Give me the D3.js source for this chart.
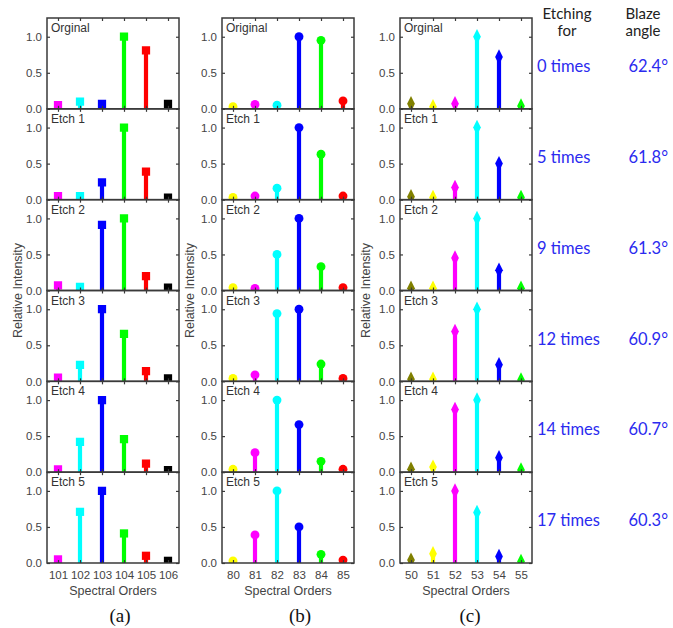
<!DOCTYPE html>
<html>
<head>
<meta charset="utf-8">
<script src="https://cdn.jsdelivr.net/npm/d3@7"></script>
<style>
  body { margin: 0; background: #fff; }
  svg { display: block; }
</style>
</head>
<body>
<svg id="chart" width="673" height="628"></svg>
<script>
// ---- data ----
const ordersA = [101, 102, 103, 104, 105, 106];
const ordersB = [80, 81, 82, 83, 84, 85];
const ordersC = [50, 51, 52, 53, 54, 55];

const colorsA = ["#ff00ff", "#00ffff", "#0000ff", "#00ff00", "#ff0000", "#000000"];
const colorsB = ["#ffff00", "#ff00ff", "#00ffff", "#0000ff", "#00ff00", "#ff0000"];
const colorsC = ["#808000", "#ffff00", "#ff00ff", "#00ffff", "#0000ff", "#00ff00"];

const rowLabelsA = ["Orginal", "Etch 1", "Etch 2", "Etch 3", "Etch 4", "Etch 5"];
const rowLabelsB = ["Original", "Etch 1", "Etch 2", "Etch 3", "Etch 4", "Etch 5"];
const rowLabelsC = ["Orginal", "Etch 1", "Etch 2", "Etch 3", "Etch 4", "Etch 5"];

const valuesA = [
  [0.05, 0.10, 0.07, 1.00, 0.81, 0.07],
  [0.05, 0.05, 0.24, 1.00, 0.39, 0.03],
  [0.07, 0.05, 0.91, 1.00, 0.20, 0.04],
  [0.05, 0.23, 1.00, 0.66, 0.14, 0.04],
  [0.04, 0.42, 1.00, 0.46, 0.12, 0.03],
  [0.05, 0.71, 1.00, 0.41, 0.10, 0.03]
];
const valuesB = [
  [0.03, 0.06, 0.05, 1.00, 0.95, 0.11],
  [0.03, 0.05, 0.16, 1.00, 0.63, 0.05],
  [0.04, 0.03, 0.50, 1.00, 0.33, 0.04],
  [0.04, 0.09, 0.94, 1.00, 0.24, 0.04],
  [0.04, 0.27, 1.00, 0.66, 0.15, 0.04],
  [0.03, 0.39, 1.00, 0.50, 0.12, 0.04]
];
const valuesC = [
  [0.07, 0.03, 0.07, 1.00, 0.72, 0.04],
  [0.04, 0.03, 0.17, 1.00, 0.50, 0.03],
  [0.03, 0.03, 0.45, 1.00, 0.28, 0.03],
  [0.03, 0.03, 0.69, 1.00, 0.23, 0.02],
  [0.04, 0.07, 0.87, 1.00, 0.20, 0.03],
  [0.04, 0.13, 1.00, 0.70, 0.09, 0.02]
];

const yTicks = [0, 0.5, 1.0];
const etchTimes = ["0 times", "5 times", "9 times", "12 times", "14 times", "17 times"];
const blazeAngles = ["62.4°", "61.8°", "61.3°", "60.9°", "60.7°", "60.3°"];

// ---- layout ----
const svg = d3.select("#chart");
const plotTop = 18, plotBottom = 563;
const nRows = 6;
const rowH = (plotBottom - plotTop) / nRows;
const panelW = 132;

const panels = [
  { x0: 47,  orders: ordersA, colors: colorsA, labels: rowLabelsA, values: valuesA, marker: "square",  caption: "(a)", capX: 120, yLabX: 22 },
  { x0: 222, orders: ordersB, colors: colorsB, labels: rowLabelsB, values: valuesB, marker: "circle",  caption: "(b)", capX: 300, yLabX: 194 },
  { x0: 400, orders: ordersC, colors: colorsC, labels: rowLabelsC, values: valuesC, marker: "diamond", caption: "(c)", capX: 470, yLabX: 370 }
];

const axisColor = "#3a3a3a";
const textColor = "#444";
const font = "Arial, 'Liberation Sans', sans-serif";
const serif = "'Times New Roman', 'Liberation Serif', serif";

const y = d3.scaleLinear().domain([0, 1.26]).range([rowH, 0]);

const symbolFor = {
  square: d3.symbol().type(d3.symbolSquare).size(68),
  circle: d3.symbol().type(d3.symbolCircle).size(62),
  diamond: d3.symbol().type(d3.symbolDiamond).size(52)
};

panels.forEach((p, pi) => {
  const x = d3.scaleLinear()
    .domain([p.orders[0] - 0.5, p.orders[p.orders.length - 1] + 0.5])
    .range([0, panelW]);

  for (let r = 0; r < nRows; r++) {
    const g = svg.append("g").attr("transform", `translate(${p.x0},${plotTop + r * rowH})`);
    const clipId = `clip-${pi}-${r}`;
    g.append("clipPath").attr("id", clipId)
      .append("rect").attr("x", 0).attr("y", 0).attr("width", panelW).attr("height", rowH);

    const data = p.orders.map((o, i) => ({ o: o, v: p.values[r][i], c: p.colors[i] }));
    const marks = g.append("g").attr("clip-path", `url(#${clipId})`);

    marks.selectAll("line.stem")
      .data(data)
      .enter()
      .append("line")
      .attr("class", "stem")
      .attr("x1", d => x(d.o)).attr("x2", d => x(d.o))
      .attr("y1", y(0)).attr("y2", d => y(d.v))
      .attr("stroke", d => d.c)
      .attr("stroke-width", 4.2);

    marks.selectAll("path.mk")
      .data(data)
      .enter()
      .append("path")
      .attr("class", "mk")
      .attr("d", symbolFor[p.marker])
      .attr("transform", d => p.marker === "diamond"
        ? `translate(${x(d.o)},${y(d.v)}) scale(1,1.15)`
        : `translate(${x(d.o)},${y(d.v)})`)
      .attr("fill", d => d.c);

    // axes, ticks pointing inward
    const left = g.append("g").call(d3.axisLeft(y).tickValues(yTicks).tickFormat(d3.format(".1f")).tickSizeInner(-3).tickSizeOuter(0).tickPadding(5));
    const right = g.append("g").attr("transform", `translate(${panelW},0)`)
      .call(d3.axisRight(y).tickValues(yTicks).tickFormat("").tickSizeInner(-3).tickSizeOuter(0));
    const topAx = g.append("g").call(d3.axisTop(x).tickValues(p.orders).tickFormat("").tickSizeInner(-3).tickSizeOuter(0));
    const botAx = g.append("g").attr("transform", `translate(0,${rowH})`)
      .call(d3.axisBottom(x).tickValues(p.orders).tickFormat(d3.format("d")).tickSizeInner(-3).tickSizeOuter(0).tickPadding(8));
    if (r < nRows - 1) botAx.selectAll("text").remove();

    [left, right, topAx, botAx].forEach(a => {
      a.select(".domain").remove();
      a.selectAll("line").attr("stroke", axisColor).attr("stroke-width", 1.2);
      a.selectAll("text").attr("fill", textColor).style("font-family", font).style("font-size", "11.5px");
    });

    g.append("rect")
      .attr("width", panelW).attr("height", rowH)
      .attr("fill", "none")
      .attr("stroke", axisColor)
      .attr("stroke-width", 1.5);

    g.append("text")
      .attr("x", 4).attr("y", 14)
      .attr("fill", "#333")
      .style("font-family", font).style("font-size", "12px")
      .text(p.labels[r]);
  }

  const cx = p.x0 + panelW / 2;
  svg.append("text")
    .attr("x", cx).attr("y", 595)
    .attr("text-anchor", "middle")
    .attr("fill", textColor)
    .style("font-family", font).style("font-size", "12.5px")
    .text("Spectral Orders");

  svg.append("text")
    .attr("transform", `translate(${p.yLabX},${(plotTop + plotBottom) / 2}) rotate(-90)`)
    .attr("text-anchor", "middle")
    .attr("fill", textColor)
    .style("font-family", font).style("font-size", "12.5px")
    .text("Relative Intensity");

  svg.append("text")
    .attr("x", p.capX).attr("y", 622)
    .attr("text-anchor", "middle")
    .attr("fill", "#111")
    .style("font-family", serif).style("font-size", "19px")
    .text(p.caption);
});

// ---- right-hand annotations ----
const sideFont = "Lato, 'Open Sans', sans-serif";
const headers = [
  { x: 567, lines: ["Etching", "for"] },
  { x: 643, lines: ["Blaze", "angle"] }
];
headers.forEach(h => {
  h.lines.forEach((t, i) => {
    svg.append("text")
      .attr("x", h.x).attr("y", 19 + i * 17)
      .attr("text-anchor", "middle")
      .attr("fill", "#222")
      .style("font-family", sideFont).style("font-size", "15px")
      .text(t);
  });
});

const blue = "#2b2bef";
etchTimes.forEach((t, i) => {
  const by = plotTop + i * rowH + 54;
  svg.append("text")
    .attr("x", 537).attr("y", by)
    .attr("fill", blue)
    .style("font-family", sideFont).style("font-size", "16.5px")
    .text(t);
  svg.append("text")
    .attr("x", 668).attr("y", by)
    .attr("text-anchor", "end")
    .attr("fill", blue)
    .style("font-family", sideFont).style("font-size", "16.5px")
    .text(blazeAngles[i]);
});
</script>
</body>
</html>
